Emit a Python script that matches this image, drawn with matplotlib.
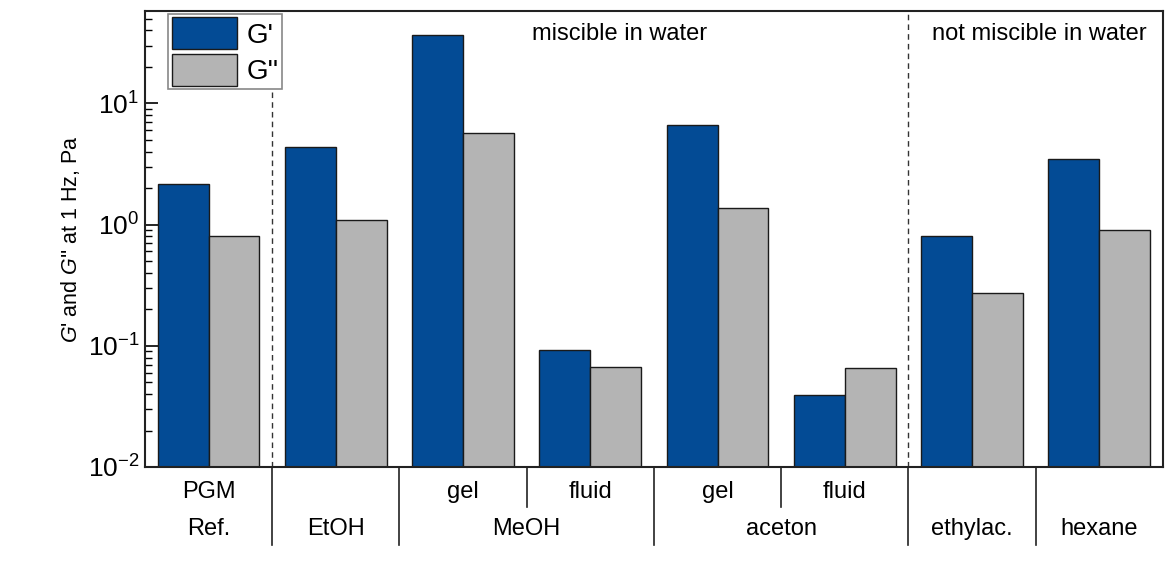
import matplotlib
matplotlib.use("Agg")
import matplotlib.pyplot as plt
import numpy as np

plt.rcParams['font.family'] = ['Liberation Sans', 'DejaVu Sans']
plt.rcParams['mathtext.fontset'] = 'custom'
plt.rcParams['mathtext.rm'] = 'Liberation Sans'
plt.rcParams['mathtext.it'] = 'Liberation Sans:italic'
plt.rcParams['axes.unicode_minus'] = False

# Data
samples = ['PGM', 'EtOH', 'MeOH gel', 'MeOH fluid', 'aceton gel', 'aceton fluid', 'ethylac.', 'hexane']
g_storage = [2.15, 4.4, 37.0, 0.093, 6.6, 0.039, 0.80, 3.5]
g_loss = [0.81, 1.1, 5.65, 0.067, 1.38, 0.065, 0.274, 0.91]

row1_labels = ['PGM', '', 'gel', 'fluid', 'gel', 'fluid', '', '']
row2_labels = ['Ref.', 'EtOH', 'MeOH', 'aceton', 'ethylac.', 'hexane']
row2_pos = [0, 1, 2.5, 4.5, 6, 7]
long_sep = [0.5, 1.5, 3.5, 5.5, 6.5]
short_sep = [2.5, 4.5]

blue = '#034b95'
gray = '#b4b4b4'

fig = plt.figure(figsize=(11.74, 5.73), dpi=100)
ax = fig.add_axes([0.1235, 0.185, 0.867, 0.796])

x = np.arange(len(samples))
w = 0.4
ax.bar(x - w / 2, g_storage, w, color=blue, edgecolor='#1a1a1a', linewidth=1, label="G'", zorder=2)
ax.bar(x + w / 2, g_loss, w, color=gray, edgecolor='#1a1a1a', linewidth=1, label="G''", zorder=2)

ax.set_yscale('log')
ax.set_ylim(0.01, 58)
ax.set_xlim(-0.5, len(samples) - 0.5)

# dashed separators inside the plot
ax.axvline(0.5, color='#333333', linestyle=(0, (4, 3)), linewidth=1, zorder=1)
ax.axvline(5.5, color='#333333', linestyle=(0, (4, 3)), linewidth=1, zorder=1)

ax.text(3.23, 0.95, 'miscible in water', transform=ax.get_xaxis_transform(),
        ha='center', va='center', fontsize=17)
ax.text(6.53, 0.95, 'not miscible in water', transform=ax.get_xaxis_transform(),
        ha='center', va='center', fontsize=17)

# category labels below the axis
trans = ax.get_xaxis_transform()
ax.set_xticks([])
for i, lab in enumerate(row1_labels):
    if lab:
        ax.text(i, -0.054, lab, transform=trans, ha='center', va='center', fontsize=17)
for p, lab in zip(row2_pos, row2_labels):
    ax.text(p, -0.136, lab, transform=trans, ha='center', va='center', fontsize=17)
for p in long_sep:
    ax.plot([p, p], [0, -0.172], transform=trans, color='#222222', linewidth=1.2, clip_on=False)
for p in short_sep:
    ax.plot([p, p], [0, -0.088], transform=trans, color='#222222', linewidth=1.2, clip_on=False)

ax.tick_params(axis='y', which='major', direction='in', length=9, width=1.2, labelsize=19, pad=4)
ax.tick_params(axis='y', which='minor', direction='in', length=5, width=1)
for s in ax.spines.values():
    s.set_linewidth(1.5)
    s.set_color('#222222')

ax.set_ylabel("$G$' and $G$'' at 1 Hz, Pa", fontsize=15.5, labelpad=4)

leg = ax.legend(loc='upper left', bbox_to_anchor=(0.023, 0.993), borderaxespad=0,
                fontsize=20, handlelength=2.35, handleheight=1.4, labelspacing=0.15,
                borderpad=0.12, handletextpad=0.35, fancybox=False, framealpha=1,
                edgecolor='#888888')
leg.get_frame().set_linewidth(1.2)
leg.set_zorder(5)

fig.savefig('out.png', dpi=100)
